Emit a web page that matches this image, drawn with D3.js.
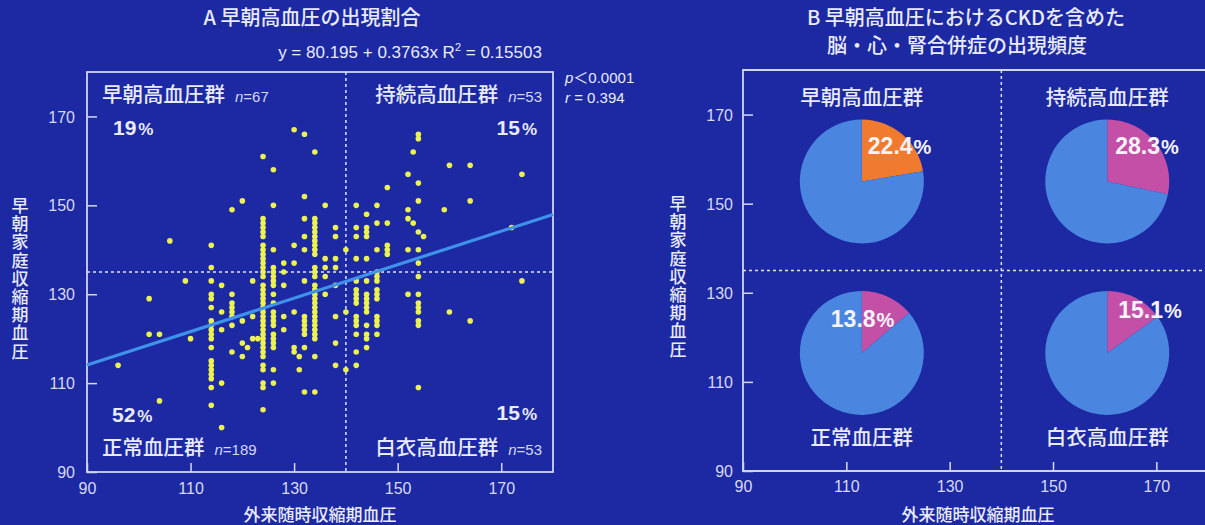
<!DOCTYPE html>
<html>
<head>
<meta charset="utf-8">
<script src="https://cdn.jsdelivr.net/npm/d3@7"></script>
<style>
  body { margin: 0; background: #1d28a3; }
  text { font-family: "Liberation Sans", "Noto Sans CJK JP", sans-serif; fill: #e8ebf8; }
  .jp { font-family: "Noto Sans CJK JP", sans-serif; font-weight: 500; }
  .tick text { font-size: 16px; fill: #d6daf0; font-family: "Liberation Sans", sans-serif; }
  .tick line { stroke: #d6daf0; stroke-width: 1.5; }
</style>
</head>
<body>
<div id="chart"></div>
<script>
var svgWidth = 1205;
var svgHeight = 525;

// clinic SBP columns (x) and the home SBP readings stacked in each column (y)
var clinicBP = [96, 102, 104, 106, 109, 110, 114, 116, 118, 120, 121, 122, 123, 124, 126, 128,
  130, 131, 132, 134, 136, 138, 140, 142, 144, 146, 148, 152, 153, 154, 155, 159, 160, 164, 172, 174];
var homeBP = [
  [114],
  [129, 121],
  [121, 106],
  [142],
  [133],
  [120],
  [141, 136, 133, 130, 129, 127, 124, 123, 122, 121, 120, 118, 115, 114, 113, 112, 111, 109, 105],
  [132, 126, 122, 110, 100],
  [149, 130, 128, 127, 126, 125, 123, 117],
  [151, 124, 119, 116],
  [118],
  [133, 125, 120],
  [120],
  [161, 147, 146, 145, 144, 143, 141, 140, 139, 138, 137, 136, 135, 134, 132, 131, 130, 129, 128, 127,
    126, 125, 124, 123, 122, 121, 120, 119, 118, 117, 116, 114, 113, 110, 109, 104],
  [158, 150, 140, 136, 135, 134, 133, 132, 130, 128, 126, 125, 124, 123, 121, 120, 119, 118, 113, 110],
  [137, 135, 132, 125, 122],
  [167, 141, 137, 126, 118, 117],
  [116, 113],
  [166, 152, 147, 143, 140, 133, 125, 124, 123, 122, 121, 118, 108],
  [162, 147, 146, 145, 144, 143, 142, 141, 140, 139, 136, 135, 134, 132, 131, 130, 129, 128, 127, 126,
    125, 124, 123, 122, 121, 120, 116, 108],
  [150, 138, 136, 134, 130],
  [145, 143, 138, 136, 132, 125, 119, 114],
  [140, 126, 113],
  [150, 145, 143, 138, 133, 131, 130, 129, 128, 125, 124, 123, 121, 117, 114],
  [148, 145, 144, 143, 138, 133, 130, 129, 128, 127, 126, 123, 121, 120, 118],
  [150, 146, 140, 135, 134, 133, 131, 130, 129, 125, 124, 123, 121],
  [154, 146, 141, 140, 139],
  [157, 149, 147, 140, 130],
  [162, 146],
  [166, 165, 155, 151, 144, 140, 137, 134, 130, 128, 127, 126, 124, 123, 109],
  [143],
  [149],
  [159, 126],
  [159, 151, 124],
  [145],
  [157, 133]
];

var fitIntercept = 80.195;
var fitSlope = 0.3763;
var cutX = 140;
var cutY = 135;

// quadrant order: top-left, top-right, bottom-left, bottom-right
var groupNames = ["早朝高血圧群", "持続高血圧群", "正常血圧群", "白衣高血圧群"];
var groupN = [67, 53, 189, 53];
var groupPct = [19, 15, 52, 15];
var ckdPct = [22.4, 28.3, 13.8, 15.1];
var tickValues = [90, 110, 130, 150, 170];

var sliceColors = ["#f07b2f", "#c44fa7", "#c44fa7", "#c44fa7"];
var pieBlue = "#4a86df";

var points = [];
clinicBP.forEach(function(x, i) {
  homeBP[i].forEach(function(y) { points.push({x: x, y: y}); });
});

var svg = d3.select("#chart").append("svg")
  .attr("width", svgWidth)
  .attr("height", svgHeight);

svg.append("rect").attr("width", svgWidth).attr("height", svgHeight).attr("fill", "#1d28a3");

var frameColor = "#cfd5f2";

// ---------- panel A ----------
var xA = d3.scaleLinear().domain([90, 180]).range([87, 553]);
var yA = d3.scaleLinear().domain([90, 180]).range([472, 72]);

svg.append("text").attr("class", "jp")
  .attr("x", 312).attr("y", 25).attr("text-anchor", "middle")
  .style("font-size", "20px")
  .text("A  早朝高血圧の出現割合");

var eq = svg.append("text")
  .attr("x", 410).attr("y", 58).attr("text-anchor", "middle")
  .style("font-size", "17px");
eq.append("tspan").text("y = 80.195 + 0.3763x   R");
eq.append("tspan").attr("dy", -7).style("font-size", "11px").text("2");
eq.append("tspan").attr("dy", 7).text(" = 0.15503");

var pTxt = svg.append("text").attr("x", 565).attr("y", 83).style("font-size", "15px");
pTxt.append("tspan").style("font-style", "italic").text("p");
pTxt.append("tspan").attr("class", "jp").style("font-weight", "normal").text("＜");
pTxt.append("tspan").text("0.0001");
var rTxt = svg.append("text").attr("x", 565).attr("y", 103).style("font-size", "15px");
rTxt.append("tspan").style("font-style", "italic").text("r");
rTxt.append("tspan").text(" = 0.394");

var gA = svg.append("g");

gA.append("g")
  .attr("transform", "translate(0," + yA.range()[0] + ")")
  .call(d3.axisBottom(xA).tickValues(tickValues).tickSize(-9).tickPadding(11))
  .call(function(g) { g.select(".domain").remove(); });
gA.append("g")
  .attr("transform", "translate(" + xA.range()[0] + ",0)")
  .call(d3.axisLeft(yA).tickValues(tickValues).tickSize(-10).tickPadding(12))
  .call(function(g) { g.select(".domain").remove(); })
  .selectAll("text").attr("dy", "0.35em");

gA.append("rect")
  .attr("x", xA(90)).attr("y", yA(180))
  .attr("width", xA(180) - xA(90)).attr("height", yA(90) - yA(180))
  .attr("fill", "none").attr("stroke", frameColor).attr("stroke-width", 1.8);

gA.append("line")
  .attr("x1", xA(cutX)).attr("x2", xA(cutX)).attr("y1", yA(180)).attr("y2", yA(90))
  .attr("stroke", "#dfe3f7").attr("stroke-width", 1.5).attr("stroke-dasharray", "3,3");
gA.append("line")
  .attr("x1", xA(90)).attr("x2", xA(180)).attr("y1", yA(cutY)).attr("y2", yA(cutY))
  .attr("stroke", "#dfe3f7").attr("stroke-width", 1.5).attr("stroke-dasharray", "3,3");

gA.selectAll("circle.pt")
  .data(points)
  .enter()
  .append("circle")
  .attr("class", "pt")
  .attr("cx", d => xA(d.x))
  .attr("cy", d => yA(d.y))
  .attr("r", 2.8)
  .attr("fill", "#ecf24e");

gA.append("line")
  .attr("x1", xA(90)).attr("y1", yA(fitIntercept + fitSlope * 90))
  .attr("x2", xA(180)).attr("y2", yA(fitIntercept + fitSlope * 180))
  .attr("stroke", "#3f92ea").attr("stroke-width", 3.2);

// quadrant labels
function groupLabel(i, x, y, anchorRight) {
  var t = gA.append("text").attr("x", x).attr("y", y)
    .attr("text-anchor", anchorRight ? "end" : "start");
  t.append("tspan").attr("class", "jp").style("font-size", "20.5px").text(groupNames[i]);
  t.append("tspan").attr("dx", 10).style("font-size", "15px").style("font-style", "italic")
    .style("fill", "#d4d8ef").text("n");
  t.append("tspan").style("font-size", "15px").style("fill", "#d4d8ef").text("=" + groupN[i]);
}
function pctLabel(i, x, y, anchorRight) {
  var t = gA.append("text").attr("x", x).attr("y", y)
    .attr("text-anchor", anchorRight ? "end" : "start")
    .style("font-weight", "bold");
  t.append("tspan").style("font-size", "21px").text(groupPct[i]);
  t.append("tspan").attr("dx", 2).style("font-size", "17px").text("%");
}
groupLabel(0, xA(90) + 15, yA(180) + 30, false);
groupLabel(1, xA(180) - 11, yA(180) + 30, true);
groupLabel(2, xA(90) + 15, yA(90) - 17, false);
groupLabel(3, xA(180) - 11, yA(90) - 17, true);
pctLabel(0, xA(90) + 26, yA(180) + 63, false);
pctLabel(1, xA(180) - 16, yA(180) + 63, true);
pctLabel(2, xA(90) + 25, yA(90) - 50, false);
pctLabel(3, xA(180) - 16, yA(90) - 52, true);

// axis titles
svg.append("text").attr("class", "jp")
  .attr("x", (xA.range()[0] + xA.range()[1]) / 2).attr("y", 521)
  .attr("text-anchor", "middle").style("font-size", "17px")
  .text("外来随時収縮期血圧");

function verticalTitle(x, yTop) {
  svg.append("text")
    .attr("class", "jp")
    .attr("x", x)
    .attr("y", yTop)
    .style("writing-mode", "vertical-rl")
    .style("letter-spacing", "1.2px")
    .style("font-size", "17px")
    .text("早朝家庭収縮期血圧");
}
verticalTitle(20, 197);

// ---------- panel B ----------
var xB = d3.scaleLinear().domain([90, 180]).range([743, 1208]);
var yB = d3.scaleLinear().domain([90, 180]).range([471, 70]);

svg.append("text").attr("class", "jp")
  .attr("x", 966).attr("y", 25).attr("text-anchor", "middle")
  .style("font-size", "20px")
  .text("B  早朝高血圧におけるCKDを含めた");
svg.append("text").attr("class", "jp")
  .attr("x", 957).attr("y", 53).attr("text-anchor", "middle")
  .style("font-size", "20px")
  .text("脳・心・腎合併症の出現頻度");

var gB = svg.append("g");

gB.append("g")
  .attr("transform", "translate(0," + yB.range()[0] + ")")
  .call(d3.axisBottom(xB).tickValues(tickValues).tickSize(-9).tickPadding(10))
  .call(function(g) { g.select(".domain").remove(); });
gB.append("g")
  .attr("transform", "translate(" + xB.range()[0] + ",0)")
  .call(d3.axisLeft(yB).tickValues(tickValues).tickSize(-10).tickPadding(10))
  .call(function(g) { g.select(".domain").remove(); })
  .selectAll("text").attr("dy", "0.35em");

var rightEdge = svgWidth + 10;
gB.append("path")
  .attr("d", "M" + rightEdge + "," + yB(180) + "H" + xB(90) + "V" + yB(90) + "H" + rightEdge)
  .attr("fill", "none").attr("stroke", frameColor).attr("stroke-width", 1.8);
gB.append("line")
  .attr("x1", xB(cutX)).attr("x2", xB(cutX)).attr("y1", yB(180)).attr("y2", yB(90))
  .attr("stroke", "#dfe3f7").attr("stroke-width", 1.5).attr("stroke-dasharray", "3,3");
gB.append("line")
  .attr("x1", xB(90)).attr("x2", rightEdge).attr("y1", yB(cutY)).attr("y2", yB(cutY))
  .attr("stroke", "#dfe3f7").attr("stroke-width", 1.5).attr("stroke-dasharray", "3,3");

var pieR = 62;
// pie centres in the panel's own axis units
var pieAt = [[113, 155], [160.5, 155], [113, 116.5], [160.5, 116.5]];
var pctOffsets = [[6, -33], [8, -33], [-31, -32], [11, -41]];
var nameY = [105, 105, 445, 445];

var pie = d3.pie().sort(null);
var arc = d3.arc().innerRadius(0).outerRadius(pieR);

ckdPct.forEach(function(p, i) {
  var cx = xB(pieAt[i][0]), cy = yB(pieAt[i][1]);
  var g = gB.append("g").attr("transform", "translate(" + cx + "," + cy + ")");
  g.selectAll("path")
    .data(pie([p, 100 - p]))
    .enter()
    .append("path")
    .attr("d", arc)
    .attr("fill", (d, j) => j === 0 ? sliceColors[i] : pieBlue);

  var t = g.append("text")
    .attr("x", pctOffsets[i][0]).attr("y", pctOffsets[i][1])
    .attr("dy", "0.36em")
    .style("font-weight", "bold").style("fill", "#f4f4fa");
  t.append("tspan").style("font-size", "23px").text(p.toFixed(1));
  t.append("tspan").attr("dx", 1).style("font-size", "20px").text("%");

  gB.append("text").attr("class", "jp")
    .attr("x", cx).attr("y", nameY[i])
    .attr("text-anchor", "middle").style("font-size", "20.5px")
    .text(groupNames[i]);
});

svg.append("text").attr("class", "jp")
  .attr("x", 978).attr("y", 521)
  .attr("text-anchor", "middle").style("font-size", "17px")
  .text("外来随時収縮期血圧");
verticalTitle(678, 195);
</script>
</body>
</html>
